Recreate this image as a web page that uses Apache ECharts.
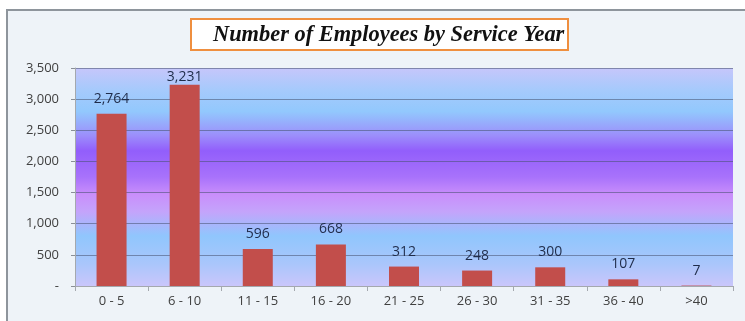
<!DOCTYPE html>
<html>
<head>
<meta charset="utf-8">
<style>
  html, body { margin: 0; padding: 0; background: #ffffff; }
  #chart { width: 745px; height: 321px; }
</style>
<script src="https://cdn.jsdelivr.net/npm/echarts@6/dist/echarts.min.js"></script>
</head>
<body>
<div id="chart"></div>
<script>
// Service-year bands and head counts
const serviceYears = ['0 - 5', '6 - 10', '11 - 15', '16 - 20', '21 - 25', '26 - 30', '31 - 35', '36 - 40', '>40'];
const employees = [2764, 3231, 596, 668, 312, 248, 300, 107, 7];
const yTicks = [0, 500, 1000, 1500, 2000, 2500, 3000, 3500];

const fmt = v => v === 0 ? '-' : v.toLocaleString('en-US');

const chart = echarts.init(document.getElementById('chart'), null, { renderer: 'canvas' });

// Labels that would run into the top of the plot are tucked closer to the bar
const barData = employees.map(v => {
  const item = { value: v };
  if (v > 3100) item.label = { distance: 1 };
  return item;
});

const plotFill = new echarts.graphic.LinearGradient(0, 0, 0, 1, [
  { offset: 0.00, color: '#c6c6fb' },
  { offset: 0.10, color: '#a6cafc' },
  { offset: 0.20, color: '#92c8fd' },
  { offset: 0.31, color: '#9c8efb' },
  { offset: 0.38, color: '#925efb' },
  { offset: 0.50, color: '#a872fb' },
  { offset: 0.58, color: '#c98efb' },
  { offset: 0.66, color: '#c4a4fb' },
  { offset: 0.77, color: '#90c6fd' },
  { offset: 0.90, color: '#aac6fb' },
  { offset: 1.00, color: '#cac6fb' }
]);

chart.setOption({
  backgroundColor: '#ffffff',
  animation: false,
  graphic: [{
    type: 'rect',
    z: -10,
    silent: true,
    shape: { x: 7, y: 10, width: 760, height: 330 },
    style: { fill: '#eef3f8', stroke: '#8e959c', lineWidth: 2 }
  }],
  title: {
    text: 'Number of Employees by Service Year',
    left: 191,
    top: 19,
    padding: [5, 4, 4, 22],
    backgroundColor: '#ffffff',
    borderColor: '#ef8f3f',
    borderWidth: 2,
    textStyle: {
      fontFamily: 'Liberation Serif',
      fontStyle: 'italic',
      fontWeight: 'bold',
      fontSize: 22.4,
      color: '#111111'
    }
  },
  grid: {
    left: 75,
    right: 12,
    top: 68,
    bottom: 35,
    show: true,
    borderWidth: 0,
    backgroundColor: plotFill
  },
  xAxis: {
    type: 'category',
    data: serviceYears,
    axisLine: { lineStyle: { color: '#a4a8ae', width: 1 } },
    axisTick: { show: true, length: 5, lineStyle: { color: '#a4a8ae' } },
    axisLabel: {
      fontFamily: 'Open Sans',
      fontSize: 13,
      color: '#404040',
      margin: 9
    }
  },
  yAxis: {
    type: 'value',
    min: yTicks[0],
    max: yTicks[yTicks.length - 1],
    interval: 500,
    axisLine: { show: true, lineStyle: { color: '#a4a8ae' } },
    axisTick: { show: true, length: 4, lineStyle: { color: '#8a8f96' } },
    splitLine: { lineStyle: { color: 'rgba(70,80,110,0.55)', width: 1 } },
    axisLabel: {
      formatter: fmt,
      fontFamily: 'Open Sans',
      fontSize: 13,
      color: '#404040',
      margin: 16
    }
  },
  series: [{
    type: 'bar',
    data: barData,
    barWidth: 30,
    itemStyle: { color: '#c24e4b' },
    label: {
      show: true,
      position: 'top',
      distance: 8,
      formatter: p => fmt(p.value),
      fontFamily: 'Open Sans',
      fontSize: 14,
      color: '#1f2c4a'
    }
  }]
});
</script>
</body>
</html>
